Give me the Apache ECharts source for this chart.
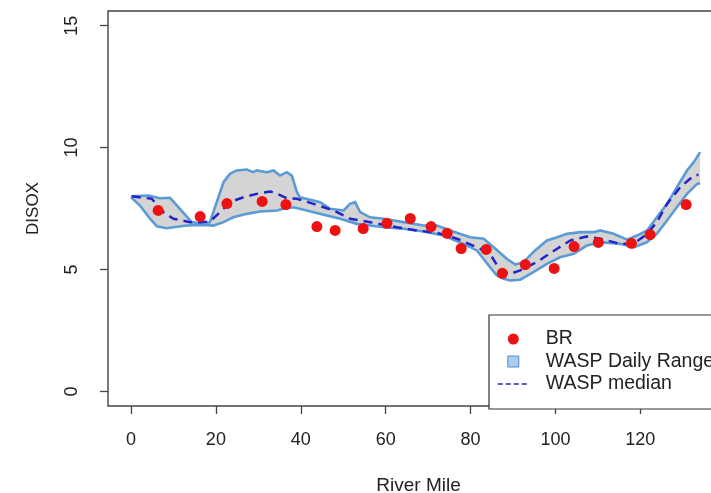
<!DOCTYPE html>
<html>
<head>
<meta charset="utf-8">
<script src="https://cdn.jsdelivr.net/npm/echarts@6/dist/echarts.min.js"></script>
<style>
html,body{margin:0;padding:0;background:#fff;}
#chart{width:711px;height:493px;}
</style>
</head>
<body>
<div id="chart"></div>
<script>
// ---- data ----
const brMile  = [6.4,16.3,22.6,30.9,36.5,43.8,48.1,54.7,60.3,65.8,70.7,74.5,77.8,83.7,87.5,92.9,99.7,104.4,110.1,117.9,122.3,130.8];
const brDisox = [7.42,7.17,7.70,7.79,7.66,6.76,6.60,6.68,6.89,7.09,6.76,6.48,5.86,5.82,4.84,5.20,5.04,5.94,6.11,6.07,6.43,7.66];

const rangeUpper = [[0,8.00],[4.1,8.03],[6.8,7.92],[9.2,7.94],[14.3,6.94],[17.0,6.87],[18.6,6.94],[20.2,7.76],[21.8,8.58],[23.3,8.92],[24.9,9.06],[27.3,9.10],[28.8,8.99],[29.6,9.06],[32.0,8.99],[33.6,9.06],[35.1,8.85],[36.7,8.99],[37.9,8.85],[39.1,8.17],[39.8,7.96],[44.6,7.76],[46.9,7.49],[50.1,7.42],[51.6,7.69],[52.8,7.76],[54.0,7.35],[56.3,7.14],[59.5,7.08],[64.2,6.94],[68.9,6.80],[72.1,6.80],[75.2,6.60],[79.9,6.32],[83.1,6.26],[86.2,5.80],[88.8,5.40],[90.6,5.20],[92.5,5.30],[95.0,5.75],[98.0,6.19],[100.4,6.32],[102.7,6.46],[105.9,6.53],[109.0,6.53],[110.6,6.60],[113.7,6.46],[116.9,6.22],[119.2,6.39],[121.6,6.60],[123.9,7.14],[126.3,7.69],[128.6,8.37],[131.0,9.06],[132.6,9.40],[134.1,9.81]];

const rangeLower = [[0,7.96],[2.1,7.62],[4.5,7.08],[6.1,6.77],[8.4,6.69],[13.1,6.80],[17.0,6.83],[19.4,6.80],[21.8,6.94],[24.1,7.14],[27.3,7.28],[30.4,7.38],[34.4,7.42],[35.9,7.49],[38.3,7.55],[41.4,7.42],[46.1,7.21],[49.3,7.08],[53.2,6.87],[56.3,6.80],[59.5,6.73],[64.2,6.67],[68.9,6.56],[73.6,6.39],[78.3,6.05],[81.5,5.78],[84.6,5.09],[86.2,4.75],[87.8,4.62],[89.3,4.55],[91.7,4.58],[94.8,4.89],[98.0,5.23],[101.1,5.50],[104.3,5.64],[107.4,5.98],[110.6,6.12],[115.3,6.05],[118.4,5.91],[121.6,6.12],[123.9,6.46],[126.3,7.01],[128.6,7.55],[131.0,8.10],[133.4,8.51],[134.1,8.54]];

const medianLine = [[0.2,8.00],[4.9,7.90],[7.6,7.35],[10.0,7.08],[13.9,6.94],[16.3,6.94],[18.6,6.97],[21.0,7.35],[23.3,7.76],[26.5,7.96],[29.6,8.10],[32.8,8.20],[34.4,8.10],[36.7,7.92],[39.1,7.90],[43.0,7.69],[47.7,7.42],[51.6,7.08],[56.3,6.94],[62.6,6.73],[67.4,6.60],[72.1,6.50],[76.8,6.26],[81.5,5.91],[84.6,5.64],[87.0,4.96],[89.3,4.82],[91.7,4.96],[95.6,5.30],[100.4,5.85],[103.5,6.19],[107.4,6.35],[110.6,6.26],[115.3,6.05],[118.4,6.05],[121.6,6.46],[123.9,6.94],[126.3,7.69],[129.4,8.37],[132.6,8.85],[133.7,8.88]];

const xTicks = [0,20,40,60,80,100,120];
const yTicks = [0,5,10,15];

// ---- chart ----
const FONT = 'Liberation Sans, Arial, sans-serif';
const chart = echarts.init(document.getElementById('chart'), null, {renderer:'canvas'});

const option = {
  animation: false,
  backgroundColor: '#fff',
  grid: {
    left: 108, top: 11, width: 621, height: 395,
    outerBoundsMode: 'none', containLabel: false,
    show: true, borderColor: '#444', borderWidth: 1.4, backgroundColor: 'transparent'
  },
  xAxis: {
    type: 'value', min: -5.42, max: 140.9,
    name: 'River Mile', nameLocation: 'middle', nameGap: 70, nameMoveOverlap: false,
    nameTextStyle: {fontSize: 19, color: '#222', fontFamily: FONT},
    axisLine: {show: false, onZero: false},
    splitLine: {show: false},
    axisTick: {show: true, inside: false, length: 8, customValues: xTicks, lineStyle: {color: '#444', width: 1.3}},
    axisLabel: {customValues: xTicks, margin: 25, fontSize: 18, color: '#222', fontFamily: FONT}
  },
  yAxis: {
    type: 'value', min: -0.6, max: 15.6,
    name: 'DISOX', nameLocation: 'middle', nameGap: 66, nameRotate: 90, nameMoveOverlap: false,
    nameTextStyle: {fontSize: 17, color: '#222', fontFamily: FONT},
    axisLine: {show: false, onZero: false},
    splitLine: {show: false},
    axisTick: {show: true, inside: false, length: 8, customValues: yTicks, lineStyle: {color: '#444', width: 1.3}},
    axisLabel: {customValues: yTicks, rotate: 90, margin: 27, fontSize: 18, color: '#222', fontFamily: FONT}
  },
  legend: {
    orient: 'vertical', left: 489, top: 315,
    padding: [14, 40, 15, 8],
    itemWidth: 31, itemHeight: 11, itemGap: 2.5,
    borderColor: '#333', borderWidth: 1.2, backgroundColor: '#fff',
    textStyle: {fontSize: 19.5, color: '#222', fontFamily: FONT, padding: [0,0,0,12]},
    selectedMode: false,
    data: [
      {name: 'BR', icon: 'circle'},
      {name: 'WASP Daily Range', icon: 'path://M0,0L10,0L10,10L0,10Z',
        itemStyle: {color: '#a9cdea', borderColor: '#4f8fd0', borderWidth: 1}},
      {name: 'WASP median', itemStyle: {opacity: 0},
        lineStyle: {color: '#2323c8', width: 1.6, type: [5, 3]}}
    ]
  },
  series: [
    {
      name: 'WASP Daily Range',
      type: 'custom',
      coordinateSystem: 'cartesian2d',
      data: [[0, 8]],
      encode: {x: 0, y: 1},
      itemStyle: {color: '#a9cdea'},
      z: 1,
      renderItem: function (params, api) {
        const up = rangeUpper.map(p => api.coord(p));
        const lo = rangeLower.map(p => api.coord(p));
        const poly = up.concat(lo.slice().reverse());
        return {
          type: 'group',
          children: [
            {type: 'polygon', shape: {points: poly}, style: {fill: '#d4d4d4', stroke: null}},
            {type: 'polyline', shape: {points: up}, style: {fill: null, stroke: '#5b9bd5', lineWidth: 2.6}},
            {type: 'polyline', shape: {points: lo}, style: {fill: null, stroke: '#5b9bd5', lineWidth: 2.6}}
          ]
        };
      }
    },
    {
      name: 'WASP median',
      type: 'line',
      data: medianLine,
      symbol: 'none',
      showSymbol: false,
      z: 3,
      lineStyle: {color: '#2323c8', width: 2.5, type: [9, 6]},
      itemStyle: {color: '#2323c8'}
    },
    {
      name: 'BR',
      type: 'scatter',
      data: brMile.map((m, i) => [m, brDisox[i]]),
      symbol: 'circle',
      symbolSize: 11,
      z: 4,
      itemStyle: {color: '#ee1111', opacity: 1}
    }
  ]
};
chart.setOption(option);
</script>
</body>
</html>
